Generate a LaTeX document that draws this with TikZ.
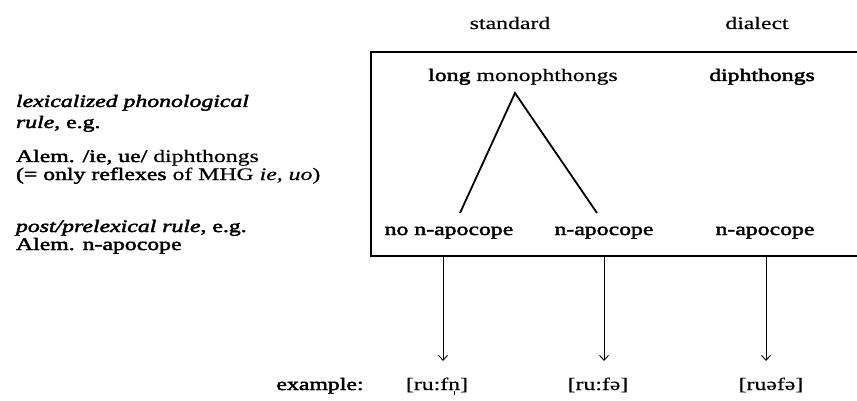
\documentclass[tikz,border=0pt]{standalone}
\usepackage{fontspec}
\setmainfont{Liberation Serif}[FakeStretch=1.35, FakeBold=0.4]
\newfontfamily\heavy{Liberation Serif}[FakeStretch=1.35, FakeBold=2.4]
\usepackage{tikz}
\usetikzlibrary{arrows.meta, positioning, calc}

% syllabic n
\newcommand{\sylln}{{\setbox0\hbox{n}\rlap{\hbox to\wd0{\hss\raisebox{-.3em}{\rule{.06em}{.24em}}\hss}}n}}

\begin{document}
\begin{tikzpicture}[
    x=1pt, y=-1pt,
    font=\fontsize{17.6}{18}\selectfont,
    every node/.style = {inner sep=0pt, outer sep=0pt},
    word/.style = {anchor=base},
    leftcol/.style = {anchor=base west, align=left},
    branch/.style = {line width=1.8pt},
    reflex/.style = {line width=0.9pt, -{Straight Barb[length=5pt,width=9pt,line width=0.9pt]}},
]
\useasboundingbox (0,0) rectangle (857,401);

% Kasten (rechter Rand ausserhalb des Bildes)
\node[draw, line width=1.5pt, minimum width=495, minimum height=204, anchor=north west]
     (panel) at (371,52) {};

% Spaltenkoepfe
\node[word] (std) at (510,29) {standard};
\node[word] (dia) at (757,29) {dialect};

% 1. obere Zeile
\node[word] (mono) at (523,81) {{\heavy long} monophthongs};
\node[word] (diph) at (762,81) {\heavy diphthongs};

% 2. untere Zeile
\node[word] (noapo) at (449,235) {\heavy no n-apocope};
\node[word] (apo)   at (604,235) {\heavy n-apocope};
\node[word] (dapo)  at (765,235) {\heavy n-apocope};

% 3. Verzweigung
\coordinate (apex)  at (515,93);
\coordinate (leftend)  at (460,213);
\coordinate (rightend) at (597,213);
\draw[branch] (leftend) -- (apex) -- (rightend);

% 4. Beispiele
\node[word] (exlab) at (320,390) {\heavy example:};
\node[word] (ex1) at (437,390) {[ru:f\sylln]};
\node[word] (ex2) at (598,390) {[ru:fə]};
\node[word] (ex3) at (771,390) {[ruəfə]};

\draw[reflex] (panel.south -| 443,0) -- (443,361);
\draw[reflex] (panel.south -| 604,0) -- (604,361);
\draw[reflex] (panel.south -| 766,0) -- (766,361);

% 5. linke Spalte
\node[leftcol] (lexrule) at (16,128)
    {\heavy\itshape lexicalized phonological\\[3pt]\heavy{\itshape rule}, e.g.};
\node[leftcol] (alemdiph) at (16,180)
    {{\heavy Alem. /ie, ue/} diphthongs\\{\heavy (= only reflexes} of MHG \textit{ie, uo})};
\node[leftcol] (postrule) at (16,250)
    {\heavy{\itshape post/prelexical rule}, e.g.\\\heavy Alem. n-apocope};

\end{tikzpicture}
\end{document}
